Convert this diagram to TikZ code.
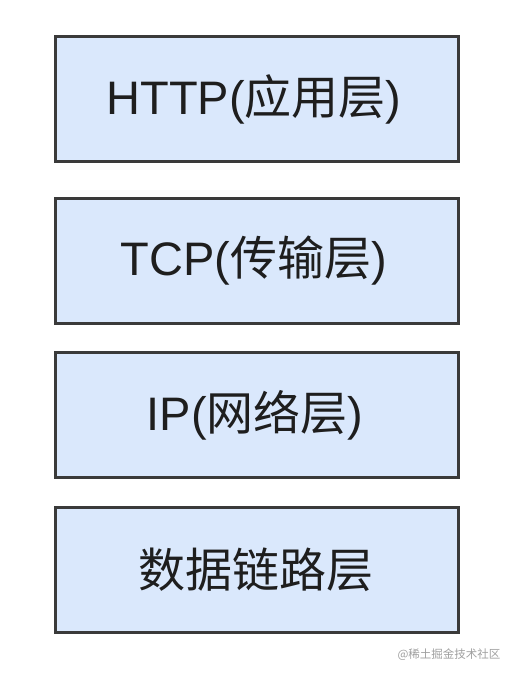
\documentclass[tikz,border=0pt]{standalone}
\usepackage{fontspec}
\setmainfont{Liberation Sans}
\newfontfamily\cjk{Noto Sans CJK SC}
\usepackage{xcolor}
\definecolor{layerFill}{RGB}{218, 232, 252}
\definecolor{layerLine}{RGB}{58, 58, 58}
\definecolor{layerText}{RGB}{30, 30, 30}
\definecolor{markGray}{RGB}{160, 160, 160}

\tikzset{
  layer/.style={rectangle, draw=layerLine, fill=layerFill, line width=3pt, minimum width=403pt, minimum height=125pt, inner sep=0pt},
  layertext/.style={text=layerText, inner sep=0pt, font=\fontsize{47}{52}\selectfont},
}

\begin{document}
\begin{tikzpicture}[x=1pt, y=-1pt]
  \useasboundingbox[fill=white] (0, 0) rectangle (514, 678);
  \node[layer] (http) at (257, 99) {};
  \node[layer] (tcp) at (257, 260.5) {};
  \node[layer] (ip) at (257, 415) {};
  \node[layer] (link) at (257, 569.5) {};
  \node[layertext] (httplabel) at ([xshift=-3pt]http.center) {HTTP({\cjk 应用层})};
  \node[layertext] (tcplabel) at ([xshift=-3pt]tcp.center) {TCP({\cjk 传输层})};
  \node[layertext] (iplabel) at ([xshift=-2pt]ip.center) {IP({\cjk 网络层})};
  \node[layertext] (linklabel) at ([xshift=-1pt]link.center) {\cjk 数据链路层};
  % watermark
  \node[text=markGray, font=\cjk\fontsize{11.5}{14}\selectfont, inner sep=0pt] (mark) at (449, 655) {@稀土掘金技术社区};
\end{tikzpicture}
\end{document}
